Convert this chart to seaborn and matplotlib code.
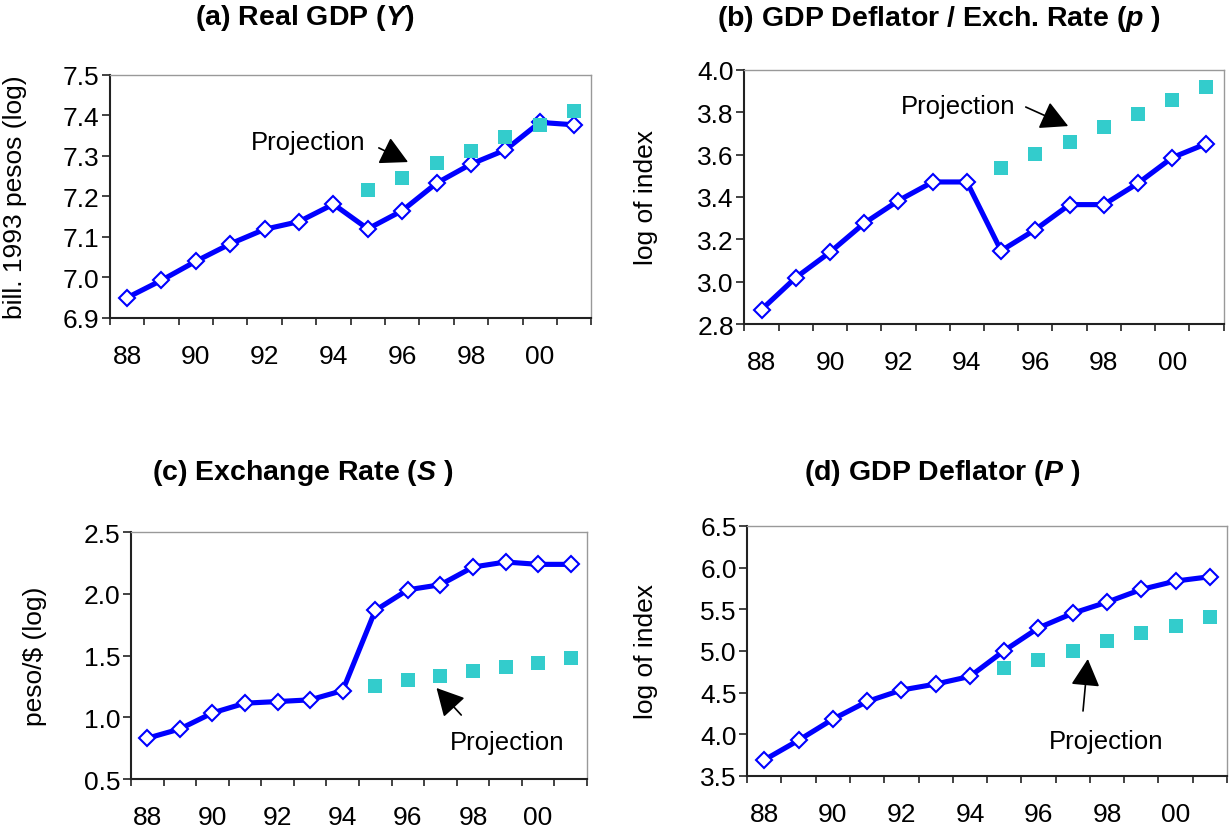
import numpy as np
import pandas as pd
import matplotlib
matplotlib.use("Agg")
import matplotlib.pyplot as plt
import seaborn as sns

# years shown on the category axis
years = ["88", "89", "90", "91", "92", "93", "94", "95", "96", "97", "98", "99", "00", "01"]

# (a) real GDP, log bill. 1993 pesos
gdp_actual = [6.95, 6.993, 7.04, 7.083, 7.119, 7.138, 7.181, 7.12, 7.165, 7.233, 7.28, 7.315, 7.383, 7.377]
gdp_proj = [7.215, 7.246, 7.282, 7.313, 7.346, 7.377, 7.412]

# (b) GDP deflator / exchange rate
p_actual = [2.868, 3.019, 3.139, 3.276, 3.383, 3.471, 3.471, 3.146, 3.246, 3.364, 3.364, 3.465, 3.586, 3.652]
p_proj = [3.535, 3.603, 3.661, 3.732, 3.792, 3.86, 3.918]

# (c) exchange rate, log peso/$
s_actual = [0.83, 0.905, 1.035, 1.114, 1.127, 1.141, 1.216, 1.865, 2.032, 2.073, 2.216, 2.257, 2.238, 2.238]
s_proj = [1.257, 1.305, 1.338, 1.378, 1.403, 1.441, 1.481]

# (d) GDP deflator, log of index
defl_actual = [3.693, 3.929, 4.182, 4.394, 4.531, 4.603, 4.695, 5.004, 5.277, 5.453, 5.586, 5.738, 5.839, 5.891]
defl_proj = [4.80, 4.896, 4.996, 5.116, 5.213, 5.305, 5.413]

sns.set_style("white")
plt.rcParams["font.family"] = ["Liberation Sans", "DejaVu Sans"]
plt.rcParams["mathtext.fontset"] = "custom"
plt.rcParams["mathtext.bfit"] = "Liberation Sans:italic:bold"
for k in ["text.color", "axes.labelcolor", "xtick.color", "ytick.color"]:
    plt.rcParams[k] = "black"

BLUE = "#0000FF"
TEAL = "#33CCCC"

fig = plt.figure(figsize=(12.3, 8.37), dpi=100)

panels = [
    dict(rect=[0.0893, 0.6189, 0.3915, 0.2903], actual=gdp_actual, proj=gdp_proj,
         ylim=(6.9, 7.5), yticks=np.arange(6.9, 7.51, 0.1), ylabel="bill. 1993 pesos (log)",
         labx=-0.172, title=r"(a) Real GDP ($\mathbfit{Y}$)", tpos=(305, 18),
         text=(5.27, 7.335), tail=(7.32, 7.32), tip=(8.17, 7.285)),
    dict(rect=[0.6052, 0.6117, 0.3896, 0.3035], actual=p_actual, proj=p_proj,
         ylim=(2.8, 4.0), yticks=np.arange(2.8, 4.01, 0.2), ylabel="log of index",
         labx=-0.180, title=r"(b) GDP Deflator / Exch. Rate ($\mathbfit{p}$ )", tpos=(939, 19),
         text=(5.73, 3.83), tail=(7.72, 3.825), tip=(8.96, 3.735)),
    dict(rect=[0.1065, 0.0681, 0.3707, 0.2951], actual=s_actual, proj=s_proj,
         ylim=(0.5, 2.5), yticks=np.arange(0.5, 2.51, 0.5), ylabel="peso/$ (log)",
         labx=-0.184, title=r"(c) Exchange Rate ($\mathbfit{S}$ )", tpos=(303, 473),
         text=(11.05, 0.80), tail=(9.64, 1.018), tip=(8.88, 1.237)),
    dict(rect=[0.6075, 0.0717, 0.3900, 0.2987], actual=defl_actual, proj=defl_proj,
         ylim=(3.5, 6.5), yticks=np.arange(3.5, 6.51, 0.5), ylabel="log of index",
         labx=-0.185, title=r"(d) GDP Deflator ($\mathbfit{P}$ )", tpos=(942, 473),
         text=(9.98, 3.92), tail=(9.30, 4.28), tip=(9.44, 4.904)),
]

for pn in panels:
    ax = fig.add_axes(pn["rect"])
    df_a = pd.DataFrame({"pos": np.arange(len(years)), "val": pn["actual"]})
    df_p = pd.DataFrame({"pos": np.arange(len(years))[7:], "val": pn["proj"]})

    sns.lineplot(data=df_a, x="pos", y="val", ax=ax, color=BLUE, linewidth=3.7,
                 marker="D", markersize=8, markerfacecolor="white",
                 markeredgecolor=BLUE, markeredgewidth=1.5, zorder=3)
    sns.scatterplot(data=df_p, x="pos", y="val", ax=ax, color=TEAL, marker="s",
                    s=100, linewidth=0, zorder=4)

    ax.set_xlim(-0.5, len(years) - 0.5)
    ax.set_ylim(*pn["ylim"])
    ax.set_yticks(pn["yticks"])
    ax.set_yticklabels([f"{v:.1f}" for v in pn["yticks"]])
    ax.set_xticks(np.arange(0, len(years), 2))
    ax.set_xticklabels(years[::2])
    ax.set_xticks(np.arange(-0.5, len(years), 1), minor=True)
    ax.tick_params(axis="x", which="major", length=0, pad=19, labelsize=19)
    ax.tick_params(axis="x", which="minor", length=5, width=1.2, direction="out", color="#222222", bottom=True)
    ax.tick_params(axis="y", length=5.5, width=1.2, direction="out", color="#222222", left=True, labelsize=19, pad=2)

    ax.set_xlabel("")
    ax.set_ylabel(pn["ylabel"], fontsize=19)
    ax.yaxis.set_label_coords(pn["labx"], 0.5)

    for side in ["left", "bottom"]:
        ax.spines[side].set_color("#222222")
        ax.spines[side].set_linewidth(1.5)
    for side in ["top", "right"]:
        ax.spines[side].set_color("#999999")
        ax.spines[side].set_linewidth(1.0)

    ax.annotate("", xy=pn["tip"], xytext=pn["tail"],
                arrowprops=dict(arrowstyle="-|>,head_length=0.85,head_width=0.45",
                                color="black", lw=1.2, mutation_scale=20, shrinkA=0, shrinkB=0))
    ax.text(pn["text"][0], pn["text"][1], "Projection", fontsize=18.5, ha="center", va="center")

    fig.text(pn["tpos"][0] / 1230, 1 - pn["tpos"][1] / 837, pn["title"],
             fontsize=20.5, fontweight="bold", ha="center", va="center")

fig.savefig("out.png", dpi=100)
